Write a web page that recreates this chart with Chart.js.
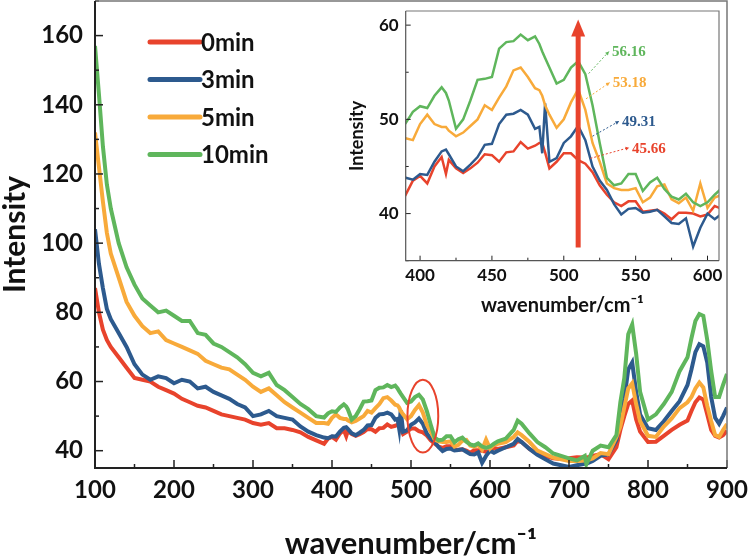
<!DOCTYPE html>
<html lang="en">
<head>
<meta charset="UTF-8" />
<title>Raman spectra</title>
<script src="https://cdn.jsdelivr.net/npm/chart.js@4.4.1/dist/chart.umd.min.js"></script>
<style>
  body { margin: 0; background: #fff; }
  #wrap { position: relative; width: 750px; height: 559px; }
  #main { position: absolute; left: 0; top: 0; }
  #inset { position: absolute; left: 340px; top: 0; }
</style>
</head>
<body>
<div id="wrap">
  <canvas id="main" width="750" height="559"></canvas>
  <canvas id="inset" width="385" height="320"></canvas>
</div>
<script>
// wavenumber (cm-1) sample points, shared by all four spectra
const wavenumber = [
  100, 105, 110, 115, 120, 130, 140, 150, 160, 170, 180, 190, 200, 210, 220, 230, 240, 250, 260, 270, 280, 290, 300, 310, 320, 330, 340, 350, 360, 370, 380, 390,
  395, 400, 405, 410, 415, 418, 420, 425, 430, 435, 440, 445, 450, 455, 460, 465, 470, 475, 480, 483, 485, 487, 490, 495, 500, 505, 510, 515, 520, 525, 530, 535, 540, 545, 550, 555, 560, 565, 570, 575, 580, 585, 590, 595, 600, 605,
  610, 620, 630, 635, 640, 650, 660, 670, 680, 690, 700, 710, 720, 722, 730, 740, 750, 760, 765, 770, 775, 780, 785, 790, 800, 810, 820, 830, 840, 850, 855, 860, 865, 870, 875, 880, 885, 890, 895, 900
];
const min0 = [
  87, 80, 75, 72, 70, 67, 64, 61, 60.5, 60, 58.5, 57.5, 56.5, 55, 54, 53, 52.5, 51.5, 50.5, 50, 49.5, 49, 48, 47.5, 48, 46.5, 46.5, 46, 45.3, 44, 43, 42,
  43.5, 44, 43.2, 45, 46, 44.2, 45.7, 44.8, 44.3, 44.8, 45.4, 46.3, 46.2, 45.5, 46.5, 46.6, 47.6, 46.9, 47.2, 47.5, 47.5, 46.5, 44.8, 45.5, 46.4, 46.4, 45.66, 45.3, 44.4, 43, 42, 41.2, 40.8, 41.3, 41.3, 40.2, 40.3, 40.4, 40, 39.4, 40.1, 40.1, 40, 39.7, 39.9, 40.8,
  40.5, 41, 41.5, 42.9, 42.5, 40.5, 39, 38.5, 37.8, 37.6, 37.8, 38.1, 38, 38, 38.5, 39, 37.5, 41, 46, 50, 53.5, 54.5, 49, 45.5, 42.5, 42.6, 44.3, 46, 47.5, 48.7, 51.5, 54, 55.4, 54.8, 50.5, 46, 44.3, 43.8, 44.5, 45.8
];
const min3 = [
  104, 94, 87, 81, 78, 74, 70, 65, 62, 60.5, 61.5, 61, 59.5, 60.5, 60, 58, 58.5, 57, 56, 55, 53.5, 52.5, 50, 50.5, 51.5, 50, 49.5, 49, 47, 45.5, 44.5, 43.8,
  43.6, 44.2, 44.1, 45.5, 46.6, 46.8, 46.3, 45, 44.5, 45.2, 46, 47.3, 47.4, 49.5, 50.5, 50.6, 51, 50.5, 49, 49.2, 46.4, 51.7, 45.5, 45.9, 47.5, 48.2, 49.31, 47.8, 45, 43.5, 42.5, 41, 39.9, 40.5, 40.6, 40.1, 40.2, 40.4, 39.7, 39, 38.9, 39.5, 36.5, 38.5, 40, 39.4,
  40, 41, 42, 43.4, 42.5, 40.5, 38.8, 37.5, 36.3, 35.8, 35.3, 35.8, 36.2, 36.2, 37, 38.5, 39, 43, 49, 55, 63.5, 65.5, 57, 50.5, 46.5, 46, 48.5, 51.5, 54.3, 59, 63.5, 68.5, 70.8, 70.2, 65.5, 55.5, 49.5, 47.8, 50, 52.5
];
const min5 = [
  132, 122, 112, 103, 97, 90, 83, 79, 76, 74, 74.5, 72, 71, 70, 69, 68, 66, 65, 64, 63.5, 62, 60.5, 58.5, 57, 58, 56, 54, 52.5, 51, 49.5, 48, 48,
  47.8, 49.5, 50.5, 49.5, 49.2, 49.2, 48.8, 48.2, 48.6, 49.3, 50, 51.5, 51, 52.3, 53.5, 55.2, 55.5, 54.5, 53.3, 53.1, 52.5, 51.5, 50.5, 49.1, 50, 51.8, 53.18, 51, 47.5, 45.5, 43.2, 42.7, 42.5, 42.5, 42.7, 41.2, 41.7, 42.9, 43.1, 41.5, 41.1, 41.7, 40.3, 43.2, 40.6, 41.7,
  42, 42.5, 44, 45.3, 44.5, 42.5, 40, 39, 38, 37.5, 37, 37, 37.2, 37.2, 37.8, 39.3, 39, 44, 47, 52.5, 58, 59.5, 53.5, 48.5, 44.3, 44, 47, 49.3, 52.3, 54, 55.5, 58, 59.7, 58.3, 53, 48.5, 44.5, 44, 46, 47.7
];
const min10 = [
  157, 143, 128, 117, 110, 100, 93, 88, 84, 82, 80, 80.5, 79, 77.5, 77.5, 74, 73.5, 71, 70, 68.5, 67, 65, 62.5, 61.5, 62.5, 59, 57.5, 55.5, 53.5, 52, 50, 49.6,
  50.8, 51.4, 51.2, 52.5, 53.4, 52.8, 52, 49, 50, 52, 54.2, 54.3, 54.5, 57.5, 58.2, 58.3, 59, 58.4, 58.8, 58, 57.2, 56.5, 55.5, 53.8, 54.2, 55.5, 56.16, 54.8, 51.5, 47.5, 43.8, 43, 43.2, 44.2, 44.2, 42.4, 43.3, 43.8, 42.6, 41.8, 41.5, 42.1, 41.2, 40.8, 41.2, 42,
  42.7, 43.5, 46, 48.7, 47.8, 45, 42.5, 41, 39.2, 38.5, 37.8, 37.2, 38.5, 36.1, 40, 41.5, 41, 44.5, 54, 61, 73.7, 76.5, 68, 57, 49, 50.5, 53.5, 57, 63, 67, 72.5, 77.5, 79.5, 79, 72, 63, 55.5, 55.5, 59, 62.2
];
const seriesNames = ["0min", "3min", "5min", "10min"];
const seriesValues = [min0, min3, min5, min10];
const seriesColors = ["#e8432c", "#2d5a8e", "#f8aa3a", "#5fb65c"];
// intensity at 510 cm-1 marked in the inset
const peak510 = [45.66, 49.31, 53.18, 56.16];

const FONT = "Lato, 'Open Sans', sans-serif";

function makeDatasets(width) {
  return seriesNames.map((name, i) => ({
    label: name,
    data: wavenumber.map((x, k) => ({ x: x, y: seriesValues[i][k] })),
    borderColor: seriesColors[i],
    borderWidth: width,
    pointRadius: 0,
    tension: 0,
    order: 3 - i,
  }));
}

// no label overhang padding, so the plot box lands where layout padding says
function noPad(s) {
  s.paddingTop = 0;
  s.paddingBottom = 0;
  s.paddingLeft = 0;
  s.paddingRight = 0;
}

// inward ticks + box around the plot
const frameTicks = {
  id: "frameTicks",
  afterDatasetsDraw(chart, args, o) {
    const { ctx, chartArea: a, scales } = chart;
    ctx.save();
    ctx.strokeStyle = "#222";
    ctx.lineWidth = o.tickWidth;
    const xs = scales.x, ys = scales.y;
    const half = o.xStep / 2;
    for (let v = Math.ceil(xs.min / half) * half; v <= xs.max + 1e-6; v += half) {
      const major = Math.abs(v / o.xStep - Math.round(v / o.xStep)) < 1e-6;
      const px = xs.getPixelForValue(v);
      ctx.beginPath();
      ctx.moveTo(px, a.bottom);
      ctx.lineTo(px, a.bottom - (major ? o.major : o.minor));
      ctx.stroke();
    }
    const halfY = o.yStep / 2;
    for (let v = Math.ceil(ys.min / halfY) * halfY; v <= ys.max + 1e-6; v += halfY) {
      const major = Math.abs(v / o.yStep - Math.round(v / o.yStep)) < 1e-6;
      const py = ys.getPixelForValue(v);
      ctx.beginPath();
      ctx.moveTo(a.left, py);
      ctx.lineTo(a.left + (major ? o.major : o.minor), py);
      ctx.stroke();
    }
    // top/right lighter, left/bottom dark
    ctx.strokeStyle = "#777";
    ctx.lineWidth = o.lightWidth;
    ctx.beginPath();
    ctx.moveTo(a.left, a.top);
    ctx.lineTo(a.right, a.top);
    ctx.lineTo(a.right, a.bottom);
    ctx.stroke();
    ctx.strokeStyle = o.darkColor;
    ctx.lineWidth = o.darkWidth;
    ctx.beginPath();
    ctx.moveTo(a.left, a.top);
    ctx.lineTo(a.left, a.bottom);
    ctx.lineTo(a.right, a.bottom);
    ctx.stroke();
    ctx.restore();
  },
};

// legend drawn inside the main plot
const innerLegend = {
  id: "innerLegend",
  afterDraw(chart) {
    const { ctx } = chart;
    ctx.save();
    chart.data.datasets.forEach((ds, i) => {
      const y = 42 + i * 37.5;
      ctx.strokeStyle = ds.borderColor;
      ctx.lineWidth = 5;
      ctx.lineCap = "round";
      ctx.beginPath();
      ctx.moveTo(150, y);
      ctx.lineTo(200, y);
      ctx.stroke();
      ctx.fillStyle = "#111";
      ctx.font = "bold 24px " + FONT;
      ctx.textBaseline = "middle";
      ctx.fillText(ds.label, 201, y + 1);
    });
    ctx.restore();
  },
};

// red ellipse around the 510 band
const ellipse510 = {
  id: "ellipse510",
  afterDatasetsDraw(chart) {
    const { ctx, scales } = chart;
    const cx = scales.x.getPixelForValue(515), cy = scales.y.getPixelForValue(50);
    const rx = scales.x.getPixelForValue(534.5) - cx;
    const ry = cy - scales.y.getPixelForValue(60.5);
    ctx.save();
    ctx.strokeStyle = "#e8432c";
    ctx.lineWidth = 2;
    ctx.beginPath();
    ctx.ellipse(cx, cy, rx, ry, 0, 0, Math.PI * 2);
    ctx.stroke();
    ctx.restore();
  },
};

// arrow and value labels in the inset
const insetNotes = {
  id: "insetNotes",
  afterDatasetsDraw(chart) {
    const { ctx, scales } = chart;
    const xs = scales.x, ys = scales.y;
    const ax = xs.getPixelForValue(510);
    const yTop = ys.getPixelForValue(60.6), yBot = ys.getPixelForValue(36.4);
    ctx.save();
    ctx.strokeStyle = "#e8432c";
    ctx.fillStyle = "#e8432c";
    ctx.lineWidth = 5;
    ctx.beginPath();
    ctx.moveTo(ax, yBot);
    ctx.lineTo(ax, yTop + 14);
    ctx.stroke();
    ctx.beginPath();
    ctx.moveTo(ax, yTop);
    ctx.lineTo(ax - 7, yTop + 17);
    ctx.lineTo(ax + 7, yTop + 17);
    ctx.closePath();
    ctx.fill();

    const textAt = [[547.5, 47.0], [540.5, 49.8], [534, 53.9], [533.5, 57.2]];
    const startAt = [[518.5, 0.2], [520, -1.1], [515.5, -1.0], [517.3, -1.3]];
    chart.data.datasets.forEach((ds, i) => {
      const x0 = xs.getPixelForValue(startAt[i][0]);
      const y0 = ys.getPixelForValue(peak510[i] + startAt[i][1]);
      const x1 = xs.getPixelForValue(textAt[i][0]) - 3;
      const y1 = ys.getPixelForValue(textAt[i][1]);
      ctx.strokeStyle = ds.borderColor;
      ctx.fillStyle = ds.borderColor;
      ctx.lineWidth = 1;
      ctx.setLineDash([2, 2]);
      ctx.beginPath();
      ctx.moveTo(x0, y0);
      ctx.lineTo(x1, y1);
      ctx.stroke();
      ctx.setLineDash([]);
      const ang = Math.atan2(y1 - y0, x1 - x0);
      ctx.beginPath();
      ctx.moveTo(x1, y1);
      ctx.lineTo(x1 - 4 * Math.cos(ang - 0.5), y1 - 4 * Math.sin(ang - 0.5));
      ctx.lineTo(x1 - 4 * Math.cos(ang + 0.5), y1 - 4 * Math.sin(ang + 0.5));
      ctx.closePath();
      ctx.fill();
      ctx.font = "bold 15px 'Liberation Serif', serif";
      ctx.textBaseline = "middle";
      ctx.fillText(peak510[i].toFixed(2), x1 + 3, y1 + 1);
    });
    ctx.restore();
  },
};

new Chart(document.getElementById("main"), {
  type: "line",
  data: { datasets: makeDatasets(4) },
  options: {
    responsive: false,
    animation: false,
    layout: { padding: { top: 1, right: 23, left: 0, bottom: 0 } },
    plugins: {
      legend: { display: false },
      tooltip: { enabled: false },
      frameTicks: { xStep: 100, yStep: 20, major: 8, minor: 4, tickWidth: 1.5, lightWidth: 1.5, darkWidth: 2, darkColor: "#222" },
    },
    scales: {
      x: {
        type: "linear",
        min: 100,
        max: 900,
        grid: { display: false, drawTicks: false },
        border: { display: false },
        ticks: { stepSize: 100, includeBounds: false, padding: 8, color: "#111", font: { family: FONT, size: 24, weight: "bold" } },
        title: { display: true, text: "wavenumber/cm\u207B\u00B9", color: "#111", padding: 0, font: { family: FONT, size: 31, weight: "bold", lineHeight: 1 } },
        afterFit: (s) => { s.height = 91; noPad(s); },
      },
      y: {
        min: 35,
        max: 170,
        grid: { display: false, drawTicks: false },
        border: { display: false },
        ticks: { stepSize: 20, includeBounds: false, padding: 12, color: "#111", font: { family: FONT, size: 24, weight: "bold" } },
        title: { display: true, text: "Intensity", color: "#111", padding: 0, font: { family: FONT, size: 30, weight: "bold", lineHeight: 1 } },
        afterFit: (s) => { s.width = 95; noPad(s); },
      },
    },
  },
  plugins: [frameTicks, ellipse510, innerLegend],
});

new Chart(document.getElementById("inset"), {
  type: "line",
  data: { datasets: makeDatasets(2.5) },
  options: {
    responsive: false,
    animation: false,
    layout: { padding: { top: 11, right: 6, left: 0, bottom: 0 } },
    plugins: {
      legend: { display: false },
      tooltip: { enabled: false },
      frameTicks: { xStep: 50, yStep: 10, major: 5, minor: 3, tickWidth: 1, lightWidth: 1.2, darkWidth: 1.2, darkColor: "#555" },
    },
    scales: {
      x: {
        type: "linear",
        min: 390,
        max: 608,
        grid: { display: false, drawTicks: false },
        border: { display: false },
        ticks: { stepSize: 50, includeBounds: false, padding: 5, color: "#111", font: { family: FONT, size: 17, weight: "bold" } },
        title: { display: true, text: "wavenumber/cm\u207B\u00B9", color: "#111", padding: { top: 0, bottom: 4 }, font: { family: FONT, size: 20, weight: "bold", lineHeight: 1 } },
        afterFit: (s) => { s.height = 59.3; noPad(s); },
      },
      y: {
        min: 35,
        max: 61.5,
        grid: { display: false, drawTicks: false },
        border: { display: false },
        ticks: { stepSize: 10, includeBounds: false, padding: 7, color: "#111", font: { family: FONT, size: 17, weight: "bold" } },
        title: { display: true, text: "Intensity", color: "#111", padding: { top: 8, bottom: 0 }, font: { family: FONT, size: 18, weight: "bold", lineHeight: 1 } },
        afterFit: (s) => { s.width = 65.7; noPad(s); },
      },
    },
  },
  plugins: [frameTicks, insetNotes],
});
</script>
</body>
</html>
